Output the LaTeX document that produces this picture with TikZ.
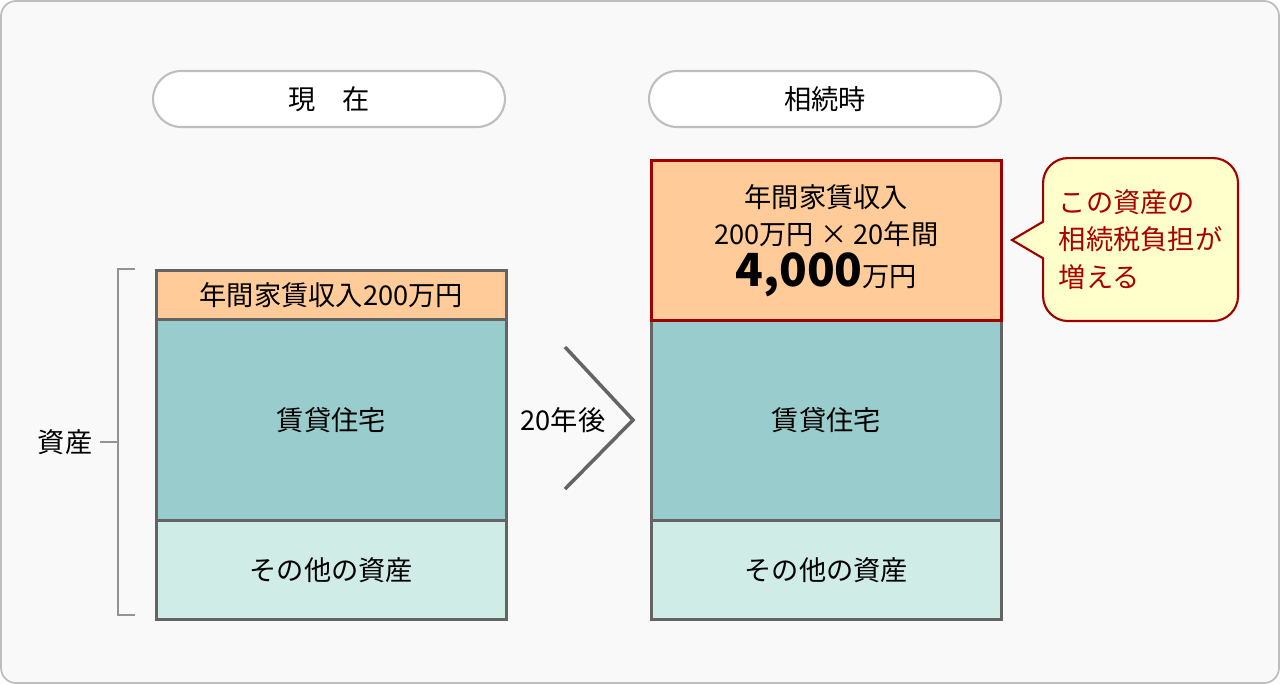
\documentclass[tikz,border=0pt]{standalone}
\usepackage{fontspec}
\setmainfont{Noto Sans CJK JP}
\usetikzlibrary{positioning}
\definecolor{bgcolor}{RGB}{249,249,249}
\definecolor{framecolor}{RGB}{190,190,190}
\definecolor{boxline}{RGB}{100,100,100}
\definecolor{rentcolor}{RGB}{255,204,153}
\definecolor{housecolor}{RGB}{153,204,204}
\definecolor{othercolor}{RGB}{207,236,230}
\definecolor{redline}{RGB}{160,0,0}
\definecolor{notecolor}{RGB}{255,255,204}
\definecolor{notetext}{RGB}{170,0,0}
\begin{document}
\begin{tikzpicture}[x=0.02cm, y=-0.02cm,
    txt/.style={font=\fontsize{15.5}{21.5}\selectfont},
    pill/.style={draw=framecolor, line width=1.2pt, fill=white, rounded corners=0.56cm, minimum width=7.04cm, minimum height=1.12cm, txt},
    band/.style={draw=boxline, line width=1.5pt, minimum width=7cm, anchor=north west, inner sep=0pt, align=center, txt},
    note/.style={draw=redline, line width=1.2pt, fill=notecolor, rounded corners=0.5cm, minimum width=3.9cm, minimum height=3.26cm, anchor=north west, align=left, text=notetext, txt}
]
    \useasboundingbox (0,0) rectangle (1280,684);
    \draw[framecolor, fill=bgcolor, line width=1pt, rounded corners=0.3cm] (1,1) rectangle (1279,683);

    % headers
    \node[pill] (now) at (329,99) {現\quad 在};
    \node[pill] (later) at (825,99) {相続時};

    % current assets
    \node[band, fill=rentcolor, minimum height=0.98cm] (rentA) at (155,269) {年間家賃収入200万円};
    \node[band, fill=housecolor, minimum height=4.02cm] (houseA) at (155,318) {賃貸住宅};
    \node[band, fill=othercolor, minimum height=1.98cm] (otherA) at (155,519) {その他の資産};

    % assets at inheritance
    \node[band, fill=housecolor, minimum height=4cm] (houseB) at (650,319) {賃貸住宅};
    \node[band, fill=othercolor, minimum height=1.98cm] (otherB) at (650,519) {その他の資産};
    \node[band, draw=redline, fill=rentcolor, minimum height=3.2cm] (rentB) at (650,159)
        {年間家賃収入\\200万円 × 20年間\\[2pt]{\fontsize{26}{28}\selectfont\bfseries 4,000}万円};

    % bracket
    \coordinate (brT) at (135,269);
    \coordinate (brB) at (135,615);
    \draw[boxline!70, line width=1.2pt] (brT) -- (118,269) -- (118,615) -- (brB);
    \node[txt] (assets) at (65,442) {資産};
    \draw[boxline!70, line width=1.2pt] (assets.east) ++(2,0) coordinate (brL) -- (118,442);

    % chevron
    \coordinate (chT) at (565,347);
    \coordinate (chM) at (633,420);
    \coordinate (chB) at (565,489);
    \draw[boxline, line width=2pt] (chT) -- (chM) -- (chB);
    \node[txt, fill=bgcolor, inner sep=1pt] (years) at (563,420) {20年後};

    % callout
    \node[note] (tax) at (1042,157) {この資産の\\相続税負担が\\増える};
    \coordinate (tip) at (1012,240);
    \fill[notecolor] (1045,222) -- (tip) -- (1045,258) -- cycle;
    \draw[redline, line width=1.2pt] (1042.5,222) -- (tip) -- (1042.5,258);
\end{tikzpicture}
\end{document}
